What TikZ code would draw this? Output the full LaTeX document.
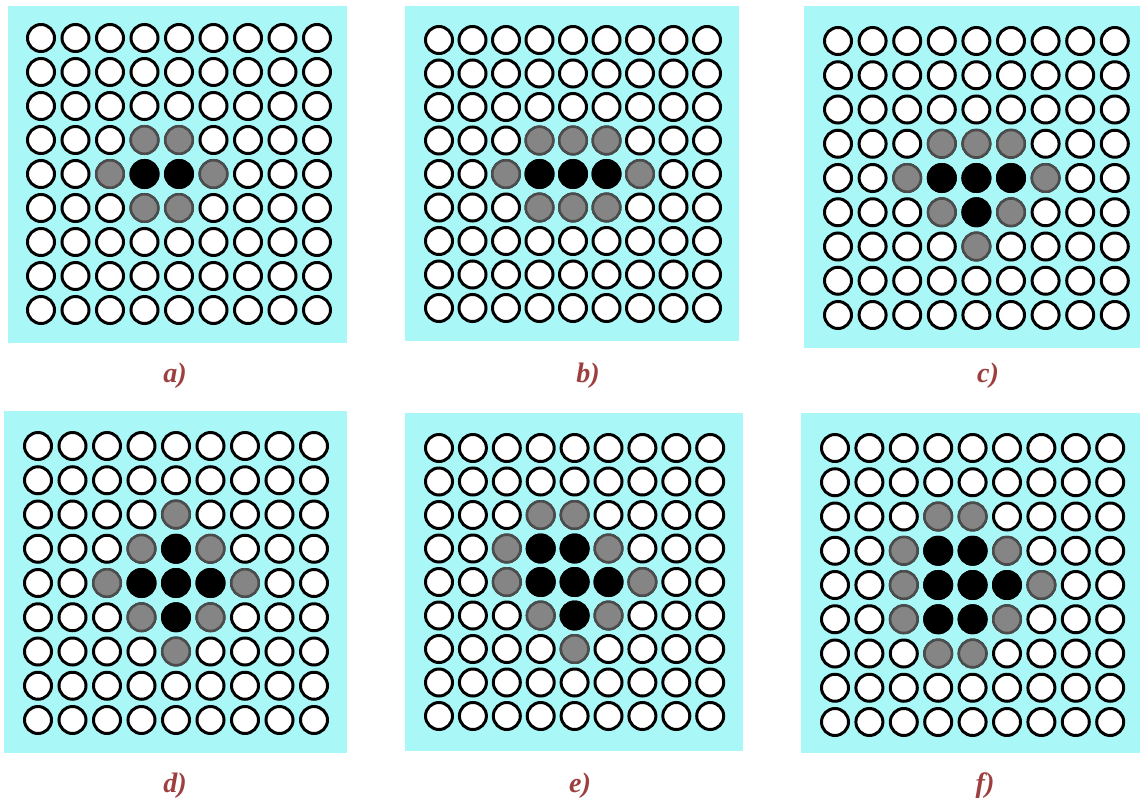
\documentclass[tikz,border=0pt]{standalone}
\usepackage{fontspec}
\setmainfont{Liberation Serif}
\usepackage{xcolor}
\usepackage{tikz}
\definecolor{fondo}{HTML}{AAF7F7}
\definecolor{etiq}{HTML}{9E3F3F}
\definecolor{gris}{HTML}{858585}

\begin{document}
\begin{tikzpicture}[
    x=0.02cm, y=-0.02cm,
    panel/.style={fill=fondo, draw=none},
    celda/.style={circle, draw=black, fill=white, line width=0.06cm, minimum size=0.54cm, inner sep=0pt},
    vecino/.style={circle, draw=black!70, fill=gris, line width=0.05cm, minimum size=0.55cm, inner sep=0pt},
    activo/.style={circle, draw=black, fill=black, line width=0.06cm, minimum size=0.54cm, inner sep=0pt},
    rotulo/.style={text=etiq, font=\fontsize{16}{19}\selectfont\bfseries\itshape},
]
    \useasboundingbox (0,0) rectangle (1140,801);
    % fondos y rejillas de 9x9
    \foreach \p/\xa/\ya/\xb/\yb/\xo/\yo/\dx/\dy/\lx/\ly in {
        a/8/6/347/343/41/38/34.5/34/175/376,
        b/405/6/739/341/439/40/33.5/33.5/588/376,
        c/804/6/1140/348/838/41/34.6/34.25/988/376,
        d/4/411/347/753/38/446/34.5/34.25/175/786,
        e/405/413/743/751/439/448/33.9/33.5/580/786,
        f/801/413/1140/753/835/448/34.4/34.25/985/786}{
        \fill[panel] (\xa,\ya) rectangle (\xb,\yb);
        \foreach \r in {1,...,9}
            \foreach \c in {1,...,9}
                \node[celda] (\p-\r-\c) at ({\xo+(\c-1)*\dx},{\yo+(\r-1)*\dy}) {};
        \node[rotulo] (lab-\p) at (\lx,\ly) {\p)};
    }
    % vecinos (gris)
    \foreach \p/\r/\c in {a/4/4,a/4/5,a/5/3,a/5/6,a/6/4,a/6/5,
        b/4/4,b/4/5,b/4/6,b/5/3,b/5/7,b/6/4,b/6/5,b/6/6,
        c/4/4,c/4/5,c/4/6,c/5/3,c/5/7,c/6/4,c/6/6,c/7/5,
        d/3/5,d/4/4,d/4/6,d/5/3,d/5/7,d/6/4,d/6/6,d/7/5,
        e/3/4,e/3/5,e/4/3,e/4/6,e/5/3,e/5/7,e/6/4,e/6/6,e/7/5,
        f/3/4,f/3/5,f/4/3,f/4/6,f/5/3,f/5/7,f/6/3,f/6/6,f/7/4,f/7/5}
        \node[vecino] at (\p-\r-\c) {};
    % celdas ocupadas (negro)
    \foreach \p/\r/\c in {a/5/4,a/5/5,
        b/5/4,b/5/5,b/5/6,
        c/5/4,c/5/5,c/5/6,c/6/5,
        d/4/5,d/5/4,d/5/5,d/5/6,d/6/5,
        e/4/4,e/4/5,e/5/4,e/5/5,e/5/6,e/6/5,
        f/4/4,f/4/5,f/5/4,f/5/5,f/5/6,f/6/4,f/6/5}
        \node[activo] at (\p-\r-\c) {};
\end{tikzpicture}
\end{document}
